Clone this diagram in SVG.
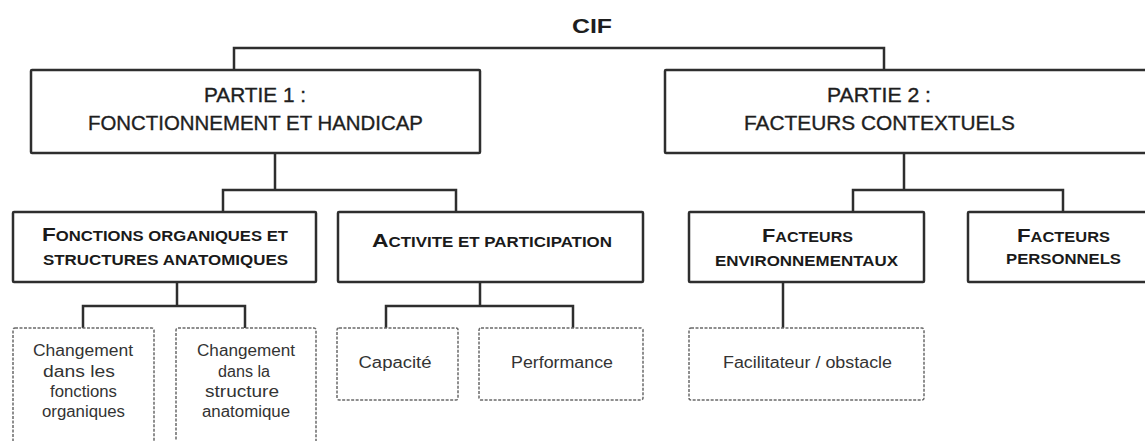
<svg xmlns="http://www.w3.org/2000/svg" width="1145" height="441" viewBox="0 0 1145 441">
<style>
.box{fill:#fff;stroke:#2e2e2e;stroke-width:2.5}
.dbox{fill:#fff;stroke:#6a6a6a;stroke-width:1.5;stroke-dasharray:3 1.5}
.conn{fill:none;stroke:#2e2e2e;stroke-width:2.5}
.big{font-family:"Liberation Sans",Arial,sans-serif;font-size:20px;fill:#1e1e1e;stroke:#1e1e1e;stroke-width:0.35;text-anchor:middle}
.sc{font-family:"Liberation Sans",Arial,sans-serif;font-size:14px;font-weight:bold;fill:#1a1a1a;text-anchor:middle}
.sc .cap{font-size:19px}
.sm{font-family:"Liberation Sans",Arial,sans-serif;font-size:16px;fill:#333;text-anchor:middle}
.title{font-family:"Liberation Sans",Arial,sans-serif;font-size:21px;font-weight:bold;fill:#1e1e1e;text-anchor:middle}
</style>
<rect width="1145" height="441" fill="#fff"/>
<g id="connectors">
<path class="conn" d="M234 70 V48 H884 V70"/>
<path class="conn" d="M275 153 V190 M223 212 V190 H456 V212"/>
<path class="conn" d="M904 153 V190 M853 212 V190 H1063 V212"/>
<path class="conn" d="M177 282 V306 M83 328 V306 H245 V328"/>
<path class="conn" d="M480 282 V306 M386 328 V306 H573 V328"/>
<path class="conn" d="M783 282 V328"/>
</g>
<g id="cif"><text class="title" x="592" y="33" textLength="40" lengthAdjust="spacingAndGlyphs">CIF</text></g>
<g id="partie1">
<rect class="box" x="31" y="70" width="449" height="83" rx="1"/>
<text class="big" x="255" y="102" textLength="102" lengthAdjust="spacingAndGlyphs">PARTIE 1 :</text>
<text class="big" x="255.5" y="130" textLength="335" lengthAdjust="spacingAndGlyphs">FONCTIONNEMENT ET HANDICAP</text>
</g>
<g id="partie2">
<rect class="box" x="665" y="70" width="500" height="83" rx="1"/>
<text class="big" x="879" y="102" textLength="104" lengthAdjust="spacingAndGlyphs">PARTIE 2 :</text>
<text class="big" x="879.5" y="130" textLength="271" lengthAdjust="spacingAndGlyphs">FACTEURS CONTEXTUELS</text>
</g>
<g id="fonctions">
<rect class="box" x="13" y="212" width="303" height="70" rx="1"/>
<text class="sc" x="165" y="241" textLength="246" lengthAdjust="spacingAndGlyphs"><tspan class="cap">F</tspan>ONCTIONS ORGANIQUES ET</text>
<text class="sc" x="165.5" y="265" textLength="245" lengthAdjust="spacingAndGlyphs">STRUCTURES ANATOMIQUES</text>
</g>
<g id="activite">
<rect class="box" x="338" y="212" width="305" height="70" rx="1"/>
<text class="sc" x="492" y="247" textLength="240" lengthAdjust="spacingAndGlyphs"><tspan class="cap">A</tspan>CTIVITE ET PARTICIPATION</text>
</g>
<g id="facteurs-env">
<rect class="box" x="689" y="212" width="235" height="70" rx="1"/>
<text class="sc" x="807.5" y="242" textLength="91" lengthAdjust="spacingAndGlyphs"><tspan class="cap">F</tspan>ACTEURS</text>
<text class="sc" x="806.5" y="266" textLength="183" lengthAdjust="spacingAndGlyphs">ENVIRONNEMENTAUX</text>
</g>
<g id="facteurs-perso">
<rect class="box" x="968" y="212" width="200" height="70" rx="1"/>
<text class="sc" x="1063.5" y="242" textLength="93" lengthAdjust="spacingAndGlyphs"><tspan class="cap">F</tspan>ACTEURS</text>
<text class="sc" x="1063.5" y="264" textLength="115" lengthAdjust="spacingAndGlyphs">PERSONNELS</text>
</g>
<g id="changement-fonctions">
<rect class="dbox" x="13" y="328" width="141" height="130" rx="2"/>
<text class="sm" x="83" y="356" textLength="100" lengthAdjust="spacingAndGlyphs">Changement</text>
<text class="sm" x="79" y="377" textLength="72" lengthAdjust="spacingAndGlyphs">dans les</text>
<text class="sm" x="83.5" y="397" textLength="67" lengthAdjust="spacingAndGlyphs">fonctions</text>
<text class="sm" x="83.5" y="417" textLength="83" lengthAdjust="spacingAndGlyphs">organiques</text>
</g>
<g id="changement-structure">
<rect class="dbox" x="176" y="328" width="140" height="130" rx="2"/>
<text class="sm" x="246" y="356" textLength="98" lengthAdjust="spacingAndGlyphs">Changement</text>
<text class="sm" x="244" y="377" textLength="52" lengthAdjust="spacingAndGlyphs">dans la</text>
<text class="sm" x="242" y="397" textLength="74" lengthAdjust="spacingAndGlyphs">structure</text>
<text class="sm" x="246" y="417" textLength="88" lengthAdjust="spacingAndGlyphs">anatomique</text>
</g>
<g id="capacite">
<rect class="dbox" x="337" y="328" width="121" height="72" rx="2"/>
<text class="sm" x="395" y="368" textLength="73" lengthAdjust="spacingAndGlyphs">Capacité</text>
</g>
<g id="performance">
<rect class="dbox" x="479" y="328" width="164" height="72" rx="2"/>
<text class="sm" x="562" y="368" textLength="102" lengthAdjust="spacingAndGlyphs">Performance</text>
</g>
<g id="facilitateur">
<rect class="dbox" x="689" y="328" width="235" height="72" rx="2"/>
<text class="sm" x="807.5" y="368" textLength="169" lengthAdjust="spacingAndGlyphs">Facilitateur / obstacle</text>
</g>
</svg>
